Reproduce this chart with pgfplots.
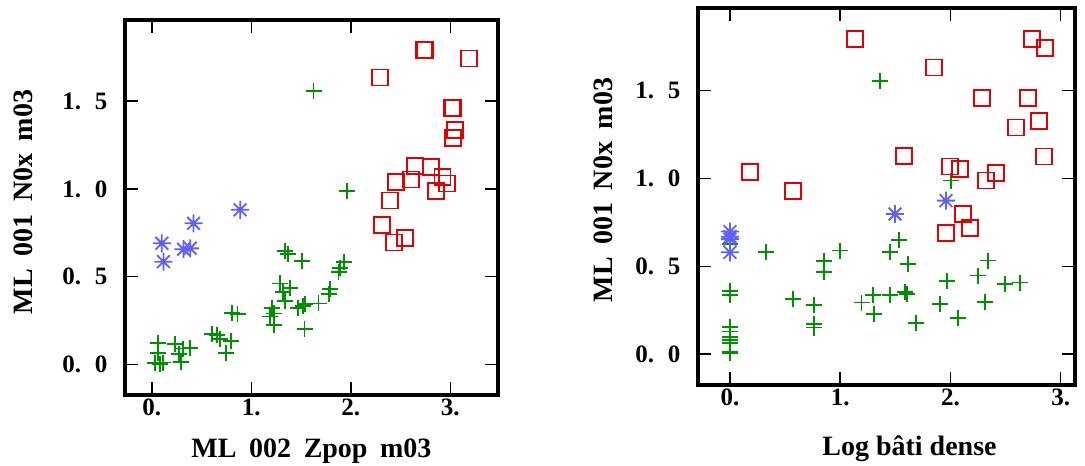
\documentclass[border=0pt]{standalone}
\usepackage{fontspec}
\setmainfont{Liberation Serif}
\usepackage{pgfplots}
\pgfplotsset{compat=1.18}
\definecolor{cred}{RGB}{228,0,0}
\definecolor{cgreen}{RGB}{0,145,0}
\definecolor{cblue}{RGB}{95,95,250}
\pgfdeclareplotmark{ast8}{%
  \pgfpathmoveto{\pgfpoint{0pt}{\pgfplotmarksize}}\pgfpathlineto{\pgfpoint{0pt}{-\pgfplotmarksize}}%
  \pgfpathmoveto{\pgfpoint{\pgfplotmarksize}{0pt}}\pgfpathlineto{\pgfpoint{-\pgfplotmarksize}{0pt}}%
  \pgfpathmoveto{\pgfpoint{0.7071\pgfplotmarksize}{0.7071\pgfplotmarksize}}\pgfpathlineto{\pgfpoint{-0.7071\pgfplotmarksize}{-0.7071\pgfplotmarksize}}%
  \pgfpathmoveto{\pgfpoint{0.7071\pgfplotmarksize}{-0.7071\pgfplotmarksize}}\pgfpathlineto{\pgfpoint{-0.7071\pgfplotmarksize}{0.7071\pgfplotmarksize}}%
  \pgfusepathqstroke}
\newcommand{\wsp}{\hspace{0.45em}}
\pgfplotsset{myax/.style={
  scale only axis, anchor=south west,
  axis line style={line width=4.8pt},
  tick align=inside, major tick length=13pt,
  tick style={line width=1.5pt,black},
  xtick={0,1,2,3}, xticklabels={\textbf{0.},\textbf{1.},\textbf{2.},\textbf{3.}},
  ytick={0,0.5,1,1.5},
  yticklabels={\textbf{0.\hspace{0.55em}0},\textbf{0.\hspace{0.55em}5},\textbf{1.\hspace{0.55em}0},\textbf{1.\hspace{0.55em}5}},
  ticklabel style={font=\fontsize{25}{27}\selectfont\bfseries},
  yticklabel style={xshift=-14pt},
  label style={font=\fontsize{28}{31}\selectfont\bfseries},
  gp/.style={only marks, mark=+, mark size=8pt, color=cgreen, line width=1.8pt},
  rs/.style={only marks, mark=square, mark size=8pt, color=cred, line width=1.8pt},
  bs/.style={only marks, mark=ast8, mark size=9pt, color=cblue, line width=1.8pt},
}}
\begin{document}
\begin{tikzpicture}
\useasboundingbox (0,0) rectangle (1085pt,466pt);
\begin{axis}[myax, at={(125pt,71pt)}, width=373pt, height=375pt,
  xmin=-0.27, xmax=3.48, ymin=-0.175, ymax=1.963,
  xlabel={ML\wsp 002\wsp Zpop\wsp m03},
  ylabel={ML\wsp 001\wsp N0x\wsp m03},
  xlabel style={at={(axis description cs:0.5,-0.168)}, anchor=base},
  ylabel style={at={(axis description cs:-0.247,0.515)}, anchor=base},
]
\addplot[gp] coordinates {
(1.626,1.557) (1.961,0.989) (1.341,0.647) (1.368,0.627) (1.509,0.590)
(1.934,0.581) (1.894,0.551) (1.877,0.524) (1.291,0.461) (1.391,0.437)
(1.317,0.414) (1.341,0.361) (1.787,0.429) (1.777,0.399) (1.676,0.347)
(1.542,0.342) (1.519,0.334) (1.468,0.319) (1.207,0.323) (1.224,0.290)
(1.190,0.272) (1.224,0.224) (0.805,0.294) (0.862,0.285) (1.535,0.201)
(0.603,0.171) (0.654,0.167) (0.687,0.144) (0.798,0.133) (0.748,0.063)
(0.06,0.12) (0.06,0.065) (0.03,0.006) (0.08,0.0) (0.11,0.01)
(0.23,0.115) (0.31,0.09) (0.29,0.015) (0.38,0.095) (0.27,0.06)
};
\addplot[rs] coordinates {
(2.73,1.794) (2.75,1.792) (3.185,1.743) (2.296,1.635) (3.02,1.462)
(3.03,1.460) (3.044,1.335) (3.027,1.291) (2.642,1.130) (2.810,1.126)
(2.608,1.054) (2.457,1.040) (2.923,1.069) (2.967,1.031) (2.860,0.987)
(2.397,0.934) (2.313,0.794) (2.541,0.718) (2.437,0.695)
};
\addplot[bs] coordinates {
(0.10,0.690) (0.117,0.585) (0.318,0.656) (0.385,0.661) (0.419,0.804) (0.888,0.881)
};
\end{axis}
\begin{axis}[myax, at={(698pt,81pt)}, width=377pt, height=377pt,
  xmin=-0.29, xmax=3.13, ymin=-0.175, ymax=1.97,
  xlabel={Log bâti dense},
  ylabel={ML\wsp 001\wsp N0x\wsp m03},
  xlabel style={at={(axis description cs:0.561,-0.186)}, anchor=base},
  ylabel style={at={(axis description cs:-0.228,0.517)}, anchor=base},
]
\addplot[gp] coordinates {
(1.361,1.555) (2.002,0.988) (1.536,0.650) (0.998,0.590) (0.327,0.580)
(1.452,0.580) (0.856,0.531) (1.618,0.512) (2.343,0.533) (0.856,0.467)
(1.966,0.417) (2.247,0.448) (2.631,0.408) (2.495,0.398) (0,0.362)
(0,0.337) (0.575,0.315) (1.300,0.338) (1.452,0.338) (1.588,0.353)
(1.603,0.341) (0.765,0.281) (1.194,0.294) (1.905,0.284) (2.313,0.296)
(1.306,0.228) (2.071,0.205) (1.687,0.176) (0.765,0.171) (0.765,0.152)
(0,0.157) (0,0.129) (0,0.100) (0,0.081) (0,0.063) (0,0.015) (0,0.006) (0,0.625)
};
\addplot[rs] coordinates {
(1.134,1.792) (2.737,1.792) (2.858,1.741) (1.851,1.631) (2.289,1.460)
(2.706,1.460) (2.806,1.329) (2.594,1.290) (1.578,1.130) (2.849,1.125)
(0.181,1.035) (1.996,1.068) (2.087,1.053) (2.413,1.030) (2.322,0.988)
(0.575,0.931) (2.117,0.797) (2.177,0.717) (1.960,0.692)
};
\addplot[bs] coordinates {
(0,0.698) (0,0.669) (0,0.655) (0,0.580) (1.497,0.798) (1.960,0.874)
};
\end{axis}
\end{tikzpicture}
\end{document}
